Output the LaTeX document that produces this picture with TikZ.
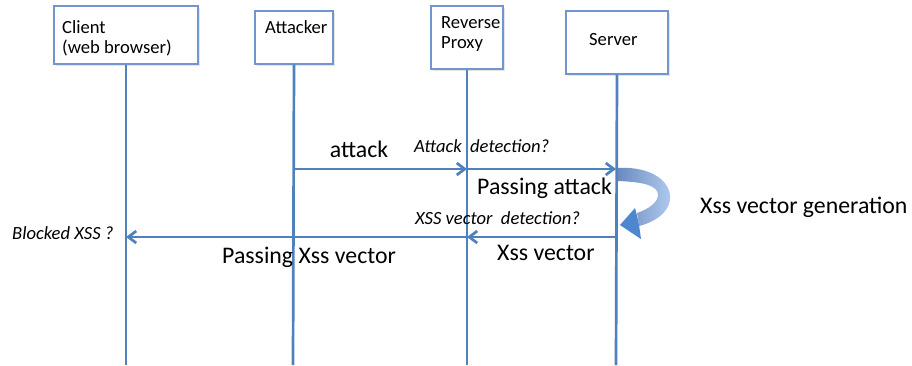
\documentclass[tikz,border=0pt]{standalone}
\usepackage{fontspec}
\setmainfont{Carlito}
\usetikzlibrary{arrows.meta,shadows}
\definecolor{lifeblue}{HTML}{4F81BD}
\definecolor{boxblue}{HTML}{7395CF}
\definecolor{loopdark}{HTML}{6A8BC0}
\definecolor{looplight}{HTML}{B2CBEE}
\definecolor{loophead}{HTML}{4E86D0}
\tikzset{>={Straight Barb[length=8pt,width=12pt]},
  actor/.style={draw=boxblue,line width=1.1pt,fill=white,inner sep=0pt,
    drop shadow={opacity=0.2,shadow xshift=1.5pt,shadow yshift=-1.5pt}},
  lifeline/.style={draw=lifeblue,line width=2.7pt},
  msg/.style={lifeline,->},
  boxtext/.style={anchor=base west,inner sep=0pt,align=left,
    font=\fontsize{18.6}{20}\selectfont},
  biglabel/.style={anchor=base west,inner sep=0pt,
    font=\fontsize{23.8}{26}\selectfont},
  notelabel/.style={anchor=base west,inner sep=0pt,
    font=\fontsize{18.6}{20}\selectfont\itshape}}

\begin{document}
\begin{tikzpicture}[x=1pt,y=-1pt]
\useasboundingbox (0,0) rectangle (912,365);

% Draw the four participants
\node[actor,minimum width=144,minimum height=58] (client) at (126,35) {};
\node[actor,minimum width=78,minimum height=53] (attacker) at (294,37.5) {};
\node[actor,minimum width=72,minimum height=63] (proxy) at (467,37.5) {};
\node[actor,minimum width=102,minimum height=63] (server) at (617,42.5) {};
% (base of a two-line label is its last line)
\node[boxtext] (clientname) at (62,53) {Client\\(web browser)};
\node[boxtext] (attackername) at (265,33) {Attacker};
\node[boxtext] (proxyname) at (441,48) {Reverse\\Proxy};
\node[boxtext] (servername) at (589,45) {Server};

% Draw lifelines down to the bottom edge
\coordinate (clientend) at (126,365);
\coordinate (attackerend) at (293,365);
\coordinate (proxyend) at (467,365);
\coordinate (serverend) at (616,365);
\draw[lifeline] (client.south) -- (clientend);
\draw[lifeline] (attacker.south) -- (attackerend);
\draw[lifeline] (proxy.south) -- (proxyend);
\draw[lifeline] (server.south) -- (serverend);

% Attack goes through the proxy to the server
\coordinate (a1) at (293,169);
\coordinate (p1) at (467,169);
\coordinate (s1) at (616,169);
\draw[msg] (a1) -- (p1);
\draw[msg] (p1) -- (s1);
\node[biglabel,anchor=base] (attacklbl) at (359,157) {attack};
\node[notelabel] (detect1) at (414,152) {Attack\ \ detection?};
\node[biglabel] (passattack) at (477,194) {Passing attack};

% Server turns it into a vector
\shade[left color=loopdark,right color=looplight]
  (618,168) .. controls (652,166) and (672,182) .. (670,200)
  .. controls (668,213) and (655,222) .. (639,226)
  -- (637,213)
  .. controls (649,209) and (658,202) .. (658,195)
  .. controls (658,186) and (645,182) .. (618,181) -- cycle;
\fill[loophead] (620,225) -- (635,208) -- (637,216) -- (639,225) -- (641,239) -- cycle;
\node[biglabel] (genlbl) at (700,213) {Xss vector generation};

% Vector comes back to the client
\coordinate (s2) at (616,237);
\coordinate (p2) at (467,237);
\coordinate (c2) at (126,237);
\draw[msg] (s2) -- (p2);
\draw[msg] (p2) -- (c2);
\node[notelabel] (detect2) at (415,224) {XSS vector\ \ detection?};
\node[biglabel] (vectorlbl) at (497,260) {Xss vector};
\node[biglabel] (passvector) at (222,263) {Passing Xss vector};
\node[notelabel] (blocked) at (12,239) {Blocked XSS ?};
\end{tikzpicture}
\end{document}
